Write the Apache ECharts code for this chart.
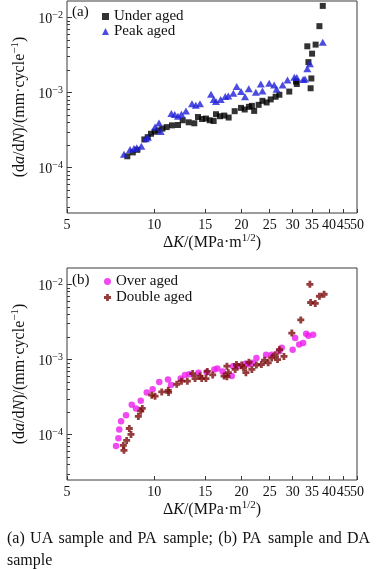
<!DOCTYPE html>
<html><head><meta charset="utf-8">
<script src="https://cdn.jsdelivr.net/npm/echarts@6/dist/echarts.min.js"></script>
<style>html,body{margin:0;padding:0;background:#fff}#c{width:380px;height:570px}</style>
</head><body><div id="c"></div>
<script>
// ---- data (ΔK in MPa·m^1/2, da/dN in mm/cycle) ----
const underAged = [[8.07,1.42e-4],[8.43,1.60e-4],[8.74,1.73e-4],[9.24,2.38e-4],[9.49,2.55e-4],[9.74,2.83e-4],[10.03,3.01e-4],[10.32,3.14e-4],[10.66,3.31e-4],[11.03,3.47e-4],[11.51,3.66e-4],[12.07,3.70e-4],[12.53,4.28e-4],[13.14,4.02e-4],[13.74,3.90e-4],[14.15,4.73e-4],[14.61,4.45e-4],[15.07,4.51e-4],[15.52,4.28e-4],[16.02,4.18e-4],[16.32,5.15e-4],[16.85,4.84e-4],[17.43,4.94e-4],[18.05,4.65e-4],[18.93,5.65e-4],[19.91,6.25e-4],[20.5,5.95e-4],[21.2,6.45e-4],[21.7,6.65e-4],[22.1,5.70e-4],[22.9,6.86e-4],[23.6,7.76e-4],[24.4,7.38e-4],[25.2,8.10e-4],[26.2,8.79e-4],[27.0,9.34e-4],[29.2,1.03e-3],[30.8,1.40e-3],[31.0,1.30e-3],[34.6,1.14e-3],[34.8,1.54e-3],[34.0,2.54e-3],[35.0,3.29e-3],[33.7,4.12e-3],[36.0,4.34e-3],[37.1,7.64e-3],[38.1,1.42e-2]];
const peakAged = [[7.86,1.51e-4],[8.25,1.75e-4],[8.51,1.80e-4],[8.70,1.84e-4],[9.02,1.93e-4],[9.36,2.43e-4],[9.5,2.55e-4],[10.06,3.47e-4],[10.38,3.93e-4],[10.52,3.04e-4],[11.45,5.26e-4],[11.76,5.10e-4],[12.07,4.84e-4],[12.40,5.15e-4],[12.86,5.70e-4],[13.49,7.08e-4],[13.90,6.80e-4],[14.37,7.08e-4],[15.69,9.46e-4],[16.02,8.10e-4],[16.32,7.62e-4],[16.94,8.10e-4],[17.57,8.89e-4],[18.0,8.98e-4],[18.73,9.76e-4],[19.24,1.20e-3],[19.91,1.03e-3],[20.55,8.79e-4],[21.17,1.12e-3],[22.4,1.01e-3],[23.3,1.30e-3],[23.6,1.05e-3],[24.9,1.33e-3],[25.9,1.26e-3],[26.4,1.11e-3],[27.7,1.26e-3],[28.8,1.47e-3],[30.4,1.60e-3],[31.0,1.59e-3],[32.6,1.49e-3],[33.1,1.51e-3],[33.7,2.07e-3],[34.4,2.41e-3],[38.1,4.66e-3]];
const overAged = [[7.38,7.1e-5],[7.52,9.0e-5],[7.57,1.17e-4],[7.68,1.51e-4],[7.99,1.81e-4],[8.36,2.50e-4],[8.65,2.24e-4],[8.98,2.84e-4],[9.42,3.65e-4],[9.87,4.03e-4],[10.40,5.02e-4],[11.15,5.41e-4],[11.42,4.6e-4],[12.33,5.59e-4],[12.76,6.25e-4],[13.2,6.35e-4],[14.2,6.68e-4],[15.16,6.8e-4],[16.1,7.39e-4],[16.5,7.61e-4],[17.2,6.95e-4],[18.5,6.03e-4],[18.7,8.16e-4],[19.5,8.16e-4],[20.6,8.78e-4],[21.1,8.59e-4],[21.8,9.05e-4],[22.5,1.05e-3],[24.3,1.16e-3],[25.4,1.16e-3],[27.0,1.29e-3],[27.5,1.43e-3],[30.0,1.35e-3],[30.6,1.93e-3],[31.6,1.58e-3],[32.6,1.66e-3],[33.4,2.20e-3],[34.0,2.07e-3],[35.3,2.13e-3]];
const doubleAged = [[7.82,7.2e-5],[7.86,6.2e-5],[8.03,8.4e-5],[8.20,1.21e-4],[8.31,1.01e-4],[8.81,1.75e-4],[8.98,2.06e-4],[9.09,2.24e-4],[9.80,3.36e-4],[10.06,3.26e-4],[10.61,3.71e-4],[11.17,3.89e-4],[11.2,3.65e-4],[11.95,4.69e-4],[12.41,5.16e-4],[13.0,5.16e-4],[13.56,6.50e-4],[13.82,5.59e-4],[14.37,6.03e-4],[14.57,5.59e-4],[15.07,5.59e-4],[15.23,6.95e-4],[15.9,6.25e-4],[17.4,6.03e-4],[17.8,5.92e-4],[17.8,8.16e-4],[18.0,6.68e-4],[19.0,7.39e-4],[19.2,8.59e-4],[20.0,8.44e-4],[20.3,7.78e-4],[20.7,6.68e-4],[21.2,9.21e-4],[21.7,7.39e-4],[22.5,8.44e-4],[23.4,8.59e-4],[24.0,9.79e-4],[24.7,9.05e-4],[25.4,1.05e-3],[26.1,1.16e-3],[26.6,1.00e-3],[27.0,1.35e-3],[28.0,1.10e-3],[29.8,2.25e-3],[32.0,3.36e-3],[34.4,1.0e-2],[34.6,5.74e-3],[35.9,5.57e-3],[37.1,6.95e-3],[38.5,7.39e-3]];
const xTicks = [5,10,15,20,25,30,35,40,45,50];
const xLabelsMain = [5,10,15,20,25,30,35,40,50];
const xLabelsExtra = [45];
const yMajorTicks = [1e-4,1e-3,1e-2];
const yMinorTicks = [3e-5,4e-5,5e-5,6e-5,7e-5,8e-5,9e-5,2e-4,3e-4,4e-4,5e-4,6e-4,7e-4,8e-4,9e-4,2e-3,3e-3,4e-3,5e-3,6e-3,7e-3,8e-3,9e-3];
const seriesNamesA = ['Under aged','Peak aged'];
const seriesNamesB = ['Over aged','Double aged'];
const xName = 'Δ{i|K}/(MPa·m{s|1/2})';
const yName = '(d{i|a}/d{i|N})/(mm·cycle{s|−1})';
const captionWords = ['(a)','UA','sample','and','PA','sample;','(b)','PA','sample','and','DA'];
const captionLine2 = 'sample';

const SERIF = 'Liberation Serif';
const Y_MIN = 2.5e-5, Y_MAX = 1.65e-2;
const gridTops = [1, 268];

const chart = echarts.init(document.getElementById('c'), null, {renderer:'canvas'});

const nameRich = {
  i:{fontFamily:SERIF,fontStyle:'italic',fontSize:16,color:'#111'},
  s:{fontFamily:SERIF,fontSize:11,color:'#111',padding:[0,0,8,0]}
};
const xLabelStyle = {fontFamily:SERIF,fontSize:14,color:'#111'};
function yLabel(v){
  const e = Math.round(Math.log10(v));
  return '{b|10}{s|−' + (-e) + '}';
}
const grids = [], xAxes = [], yAxes = [];
gridTops.forEach((t,gi)=>{
  grids.push({left:67,top:t,width:290,height:212,show:true,borderColor:'#3a3a3a',borderWidth:1,backgroundColor:'transparent'});
  xAxes.push({
    gridIndex:gi,type:'log',logBase:10,min:5,max:50,position:'bottom',
    axisLine:{show:false},splitLine:{show:false},minorTick:{show:false},
    axisTick:{show:true,inside:true,length:4,customValues:xTicks,lineStyle:{color:'#3a3a3a'}},
    axisLabel:Object.assign({show:true,customValues:xLabelsMain,margin:5,showMinLabel:true,showMaxLabel:true,hideOverlap:false,
      formatter:v=>String(Math.round(v))},xLabelStyle),
    name:xName,nameLocation:'middle',nameGap:19,
    nameTextStyle:{fontFamily:SERIF,fontSize:16,color:'#111',rich:nameRich}
  });
  xAxes.push({
    gridIndex:gi,type:'log',logBase:10,min:5,max:50,position:'bottom',offset:0,
    axisLine:{show:false},splitLine:{show:false},minorTick:{show:false},axisTick:{show:false},
    axisLabel:Object.assign({show:true,customValues:xLabelsExtra,margin:5,showMinLabel:true,showMaxLabel:true,hideOverlap:false,
      formatter:v=>String(Math.round(v))},xLabelStyle)
  });
  yAxes.push({
    gridIndex:gi,type:'log',logBase:10,min:Y_MIN,max:Y_MAX,position:'left',
    axisLine:{show:false},splitLine:{show:false},minorTick:{show:false},
    axisTick:{show:true,inside:true,length:5,customValues:yMajorTicks,lineStyle:{color:'#3a3a3a'}},
    axisLabel:{show:true,customValues:yMajorTicks,margin:4,formatter:yLabel,
      rich:{b:{fontFamily:SERIF,fontSize:14,color:'#111',padding:[4,0,0,0]},
            s:{fontFamily:SERIF,fontSize:10,color:'#111',padding:[0,0,4,0]}}},
    name:yName,nameLocation:'middle',nameGap:29,nameRotate:90,
    nameTextStyle:{fontFamily:SERIF,fontSize:16,color:'#111',rich:nameRich}
  });
  yAxes.push({
    gridIndex:gi,type:'log',logBase:10,min:Y_MIN,max:Y_MAX,position:'left',offset:0,
    axisLine:{show:false},splitLine:{show:false},minorTick:{show:false},
    axisTick:{show:true,inside:true,length:3,customValues:yMinorTicks,lineStyle:{color:'#3a3a3a'}},
    axisLabel:{show:false}
  });
});

const plus = 'path://M3,0H7V3H10V7H7V10H3V7H0V3H3Z';
const legendText = {fontFamily:SERIF,fontSize:15,color:'#111',lineHeight:15};

const captionX = [7,30.1,58.5,109.1,137.5,163.2,218.3,242.2,268.0,318.6,347];
const graphics = [
  {type:'text',left:72,top:5,style:{text:'(a)',font:'15px "Liberation Serif"',fill:'#111'}},
  {type:'text',left:72,top:273,style:{text:'(b)',font:'15px "Liberation Serif"',fill:'#111'}},
  {type:'text',left:7,top:553,style:{text:captionLine2,font:'16px "Liberation Serif"',fill:'#111'}}
];
captionWords.forEach((w,i)=>graphics.push({type:'text',left:captionX[i],top:531,style:{text:w,font:'16px "Liberation Serif"',fill:'#111'}}));

chart.setOption({
  animation:false,
  backgroundColor:'#fff',
  grid:grids,xAxis:xAxes,yAxis:yAxes,
  legend:[
    {data:seriesNamesA,orient:'vertical',left:102,top:9,itemWidth:7,itemHeight:7,itemGap:0,padding:0,textStyle:legendText,selectedMode:false},
    {data:seriesNamesB,orient:'vertical',left:104,top:274,itemWidth:7,itemHeight:7,itemGap:1,padding:0,textStyle:legendText,selectedMode:false}
  ],
  graphic:graphics,
  series:[
    {type:'scatter',name:seriesNamesA[0],xAxisIndex:0,yAxisIndex:0,data:underAged,symbol:'rect',symbolSize:6,itemStyle:{color:'#000'}},
    {type:'scatter',name:seriesNamesA[1],xAxisIndex:0,yAxisIndex:0,data:peakAged,symbol:'triangle',symbolSize:[8,7],itemStyle:{color:'#1f1fd8'}},
    {type:'scatter',name:seriesNamesB[0],xAxisIndex:2,yAxisIndex:2,data:overAged,symbol:'circle',symbolSize:6.5,itemStyle:{color:'#ee1cee'}},
    {type:'scatter',name:seriesNamesB[1],xAxisIndex:2,yAxisIndex:2,data:doubleAged,symbol:plus,symbolSize:7,itemStyle:{color:'#7a0c0c'}}
  ]
});
</script></body></html>
